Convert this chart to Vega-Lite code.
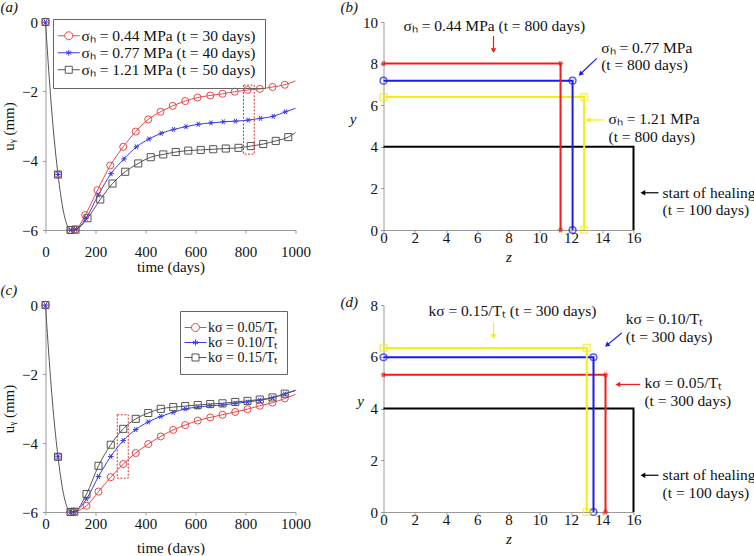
{
  "$schema": "https://vega.github.io/schema/vega-lite/v6.json",
  "autosize": {"type": "pad"},
  "padding": {"left": 0.5, "top": 0, "right": 0, "bottom": 0},
  "background": "white",
  "config": {
    "font": "Liberation Serif",
    "view": {"stroke": null},
    "axis": {"domainColor": "#9a9a9a", "tickColor": "#9a9a9a", "labelFont": "Liberation Serif", "titleFont": "Liberation Serif", "labelFontSize": 15, "titleFontSize": 15, "titleFontWeight": "normal", "labelColor": "#111", "titleColor": "#111", "grid": false, "tickSize": 3, "labelOverlap": false, "labelFlush": false, "labelSeparation": -40},
    "text": {"font": "Liberation Serif", "fontSize": 15.5}
  },
  "datasets": {
    "early": [{"t":0,"u":0},{"t":10,"u":-1.1},{"t":20,"u":-2.1},{"t":30,"u":-3.0},{"t":40,"u":-3.75},{"t":50,"u":-4.4},{"t":60,"u":-4.95},{"t":70,"u":-5.4},{"t":80,"u":-5.72},{"t":90,"u":-5.92},{"t":100,"u":-6}],
    "a": [
      {"s":"R","t":0,"u":0},{"s":"R","t":50,"u":-4.4},{"s":"R","t":100,"u":-6},{"s":"R","t":120,"u":-5.98},{"s":"R","t":159,"u":-5.57},{"s":"R","t":208,"u":-4.85},{"s":"R","t":259,"u":-4.14},{"s":"R","t":311,"u":-3.6},{"s":"R","t":361,"u":-3.16},{"s":"R","t":411,"u":-2.81},{"s":"R","t":460,"u":-2.59},{"s":"R","t":509,"u":-2.42},{"s":"R","t":559,"u":-2.28},{"s":"R","t":608,"u":-2.18},{"s":"R","t":659,"u":-2.12},{"s":"R","t":708,"u":-2.07},{"s":"R","t":757,"u":-2.01},{"s":"R","t":808,"u":-1.96},{"s":"R","t":857,"u":-1.93},{"s":"R","t":908,"u":-1.875},{"s":"R","t":957,"u":-1.81},{"s":"R","t":1000,"u":-1.7},
      {"s":"B","t":0,"u":0},{"s":"B","t":50,"u":-4.4},{"s":"B","t":100,"u":-6},{"s":"B","t":120,"u":-5.98},{"s":"B","t":162,"u":-5.66},{"s":"B","t":211,"u":-4.99},{"s":"B","t":262,"u":-4.375},{"s":"B","t":314,"u":-3.95},{"s":"B","t":364,"u":-3.6},{"s":"B","t":414,"u":-3.375},{"s":"B","t":463,"u":-3.21},{"s":"B","t":512,"u":-3.1},{"s":"B","t":562,"u":-3.02},{"s":"B","t":611,"u":-2.95},{"s":"B","t":662,"u":-2.91},{"s":"B","t":711,"u":-2.88},{"s":"B","t":760,"u":-2.86},{"s":"B","t":811,"u":-2.83},{"s":"B","t":860,"u":-2.78},{"s":"B","t":911,"u":-2.72},{"s":"B","t":960,"u":-2.59},{"s":"B","t":1000,"u":-2.49},
      {"s":"K","t":0,"u":0},{"s":"K","t":50,"u":-4.4},{"s":"K","t":100,"u":-6},{"s":"K","t":120,"u":-5.99},{"s":"K","t":168,"u":-5.66},{"s":"K","t":219,"u":-5.12},{"s":"K","t":268,"u":-4.66},{"s":"K","t":319,"u":-4.32},{"s":"K","t":371,"u":-4.08},{"s":"K","t":421,"u":-3.9},{"s":"K","t":471,"u":-3.82},{"s":"K","t":521,"u":-3.75},{"s":"K","t":571,"u":-3.71},{"s":"K","t":621,"u":-3.69},{"s":"K","t":671,"u":-3.67},{"s":"K","t":721,"u":-3.65},{"s":"K","t":772,"u":-3.63},{"s":"K","t":821,"u":-3.58},{"s":"K","t":871,"u":-3.52},{"s":"K","t":921,"u":-3.43},{"s":"K","t":971,"u":-3.32},{"s":"K","t":1000,"u":-3.19}
    ],
    "c": [
      {"s":"R","t":0,"u":0},{"s":"R","t":50,"u":-4.4},{"s":"R","t":100,"u":-6},{"s":"R","t":115,"u":-5.99},{"s":"R","t":164,"u":-5.82},{"s":"R","t":212,"u":-5.41},{"s":"R","t":261,"u":-4.99},{"s":"R","t":311,"u":-4.61},{"s":"R","t":361,"u":-4.29},{"s":"R","t":411,"u":-4.03},{"s":"R","t":461,"u":-3.81},{"s":"R","t":511,"u":-3.62},{"s":"R","t":559,"u":-3.48},{"s":"R","t":609,"u":-3.35},{"s":"R","t":659,"u":-3.26},{"s":"R","t":708,"u":-3.18},{"s":"R","t":759,"u":-3.1},{"s":"R","t":808,"u":-3.02},{"s":"R","t":857,"u":-2.92},{"s":"R","t":908,"u":-2.83},{"s":"R","t":957,"u":-2.71},{"s":"R","t":1000,"u":-2.59},
      {"s":"B","t":0,"u":0},{"s":"B","t":50,"u":-4.4},{"s":"B","t":100,"u":-6},{"s":"B","t":115,"u":-5.99},{"s":"B","t":164,"u":-5.62},{"s":"B","t":212,"u":-4.97},{"s":"B","t":261,"u":-4.39},{"s":"B","t":311,"u":-3.93},{"s":"B","t":361,"u":-3.61},{"s":"B","t":411,"u":-3.39},{"s":"B","t":461,"u":-3.23},{"s":"B","t":511,"u":-3.11},{"s":"B","t":559,"u":-3.01},{"s":"B","t":609,"u":-2.96},{"s":"B","t":659,"u":-2.92},{"s":"B","t":708,"u":-2.9},{"s":"B","t":759,"u":-2.85},{"s":"B","t":808,"u":-2.81},{"s":"B","t":857,"u":-2.76},{"s":"B","t":908,"u":-2.69},{"s":"B","t":957,"u":-2.58},{"s":"B","t":1000,"u":-2.48},
      {"s":"K","t":0,"u":0},{"s":"K","t":50,"u":-4.4},{"s":"K","t":100,"u":-6},{"s":"K","t":115,"u":-5.99},{"s":"K","t":164,"u":-5.48},{"s":"K","t":212,"u":-4.66},{"s":"K","t":261,"u":-4.05},{"s":"K","t":311,"u":-3.59},{"s":"K","t":361,"u":-3.3},{"s":"K","t":411,"u":-3.13},{"s":"K","t":461,"u":-3.01},{"s":"K","t":511,"u":-2.96},{"s":"K","t":559,"u":-2.93},{"s":"K","t":609,"u":-2.9},{"s":"K","t":659,"u":-2.87},{"s":"K","t":708,"u":-2.85},{"s":"K","t":759,"u":-2.81},{"s":"K","t":808,"u":-2.78},{"s":"K","t":857,"u":-2.74},{"s":"K","t":908,"u":-2.68},{"s":"K","t":957,"u":-2.57},{"s":"K","t":1000,"u":-2.47}
    ],
    "bLines": [
      {"s":"k","i":0,"z":0,"y":4},{"s":"k","i":1,"z":16,"y":4},{"s":"k","i":2,"z":16,"y":0},
      {"s":"y","i":0,"z":0,"y":6.39},{"s":"y","i":1,"z":12.84,"y":6.39},{"s":"y","i":2,"z":12.84,"y":0},
      {"s":"b","i":0,"z":0,"y":7.18},{"s":"b","i":1,"z":12.1,"y":7.18},{"s":"b","i":2,"z":12.1,"y":0},
      {"s":"r","i":0,"z":0,"y":8},{"s":"r","i":1,"z":11.33,"y":8},{"s":"r","i":2,"z":11.33,"y":0}
    ],
    "bArrows": [
      {"s":"r","z":7.04,"y":9.33,"z2":7.04,"y2":8.62,"hz":7.04,"hy":8.62,"ang":180},
      {"s":"b","z":13.65,"y":8.25,"z2":12.6,"y2":7.5,"hz":12.6,"hy":7.5,"ang":226},
      {"s":"y","z":14.08,"y":5.29,"z2":13.1,"y2":5.29,"hz":13.1,"hy":5.29,"ang":270},
      {"s":"k","z":17.6,"y":1.79,"z2":16.6,"y2":1.79,"hz":16.6,"hy":1.79,"ang":270}
    ],
    "bText": [
      {"txt":"σₕ = 0.44 MPa (t = 800 days)","z":1.28,"y":9.81},
      {"txt":"σₕ = 0.77 MPa","z":13.93,"y":8.77},
      {"txt":"(t = 800 days)","z":13.93,"y":7.93},
      {"txt":"σₕ = 1.21 MPa","z":14.4,"y":5.34},
      {"txt":"(t = 800 days)","z":14.4,"y":4.49},
      {"txt":"start of healing","z":17.86,"y":1.79},
      {"txt":"(t = 100 days)","z":17.86,"y":0.96}
    ],
    "dLines": [
      {"s":"k","i":0,"z":0,"y":4},{"s":"k","i":1,"z":16,"y":4},{"s":"k","i":2,"z":16,"y":0},
      {"s":"r","i":0,"z":0,"y":5.3},{"s":"r","i":1,"z":14.21,"y":5.3},{"s":"r","i":2,"z":14.21,"y":0},
      {"s":"b","i":0,"z":0,"y":5.98},{"s":"b","i":1,"z":13.44,"y":5.98},{"s":"b","i":2,"z":13.44,"y":0},
      {"s":"y","i":0,"z":0,"y":6.34},{"s":"y","i":1,"z":13.01,"y":6.34},{"s":"y","i":2,"z":13.01,"y":0}
    ],
    "dArrows": [
      {"s":"y","z":7.04,"y":7.31,"z2":7.04,"y2":6.78,"hz":7.04,"hy":6.78,"ang":180},
      {"s":"b","z":15.25,"y":6.92,"z2":14.3,"y2":6.45,"hz":14.3,"hy":6.45,"ang":230},
      {"s":"r","z":16.43,"y":4.93,"z2":15.0,"y2":4.93,"hz":15.0,"hy":4.93,"ang":270},
      {"s":"k","z":17.6,"y":1.42,"z2":16.6,"y2":1.42,"hz":16.6,"hy":1.42,"ang":270}
    ],
    "dText": [
      {"txt":"kσ = 0.15/Tₜ (t = 300 days)","z":2.88,"y":7.76},
      {"txt":"kσ = 0.10/Tₜ","z":15.51,"y":7.44},
      {"txt":"(t = 300 days)","z":15.51,"y":6.76},
      {"txt":"kσ = 0.05/Tₜ","z":16.7,"y":4.99},
      {"txt":"(t = 300 days)","z":16.7,"y":4.29},
      {"txt":"start of healing","z":17.86,"y":1.42},
      {"txt":"(t = 100 days)","z":17.86,"y":0.75}
    ]
  },
  "columns": 2,
  "spacing": {"row": 75, "column": 88},
  "bounds": "flush",
  "concat": [
    {
      "width": 250, "height": 208,
      "title": {"text": "(a)", "anchor": "start", "frame": "group", "dx": -45, "dy": 2, "offset": 2, "fontSize": 15, "font": "Liberation Serif", "fontWeight": "normal", "fontStyle": "italic", "color": "#111"},
      "resolve": {"scale": {"color": "independent", "shape": "independent"}},
      "layer": [
        {"data": {"name": "early"}, "mark": {"type": "line", "color": "#555", "strokeWidth": 1, "interpolate": "monotone"},
         "encoding": {
           "x": {"field": "t", "type": "quantitative", "scale": {"domain": [0, 1000], "nice": false}, "axis": {"title": "time (days)", "values": [0,200,400,600,800,1000], "format": "d", "labelPadding": 11, "titlePadding": 0, "labelOverlap": false, "labelFlush": false}},
           "y": {"field": "u", "type": "quantitative", "scale": {"domain": [-6, 0], "nice": false}, "axis": {"title": "uᵧ (mm)", "values": [-6,-4,-2,0], "format": "d", "labelPadding": 5, "titlePadding": 5, "labelOverlap": false, "labelFlush": false}}}},
        {"data": {"name": "a"}, "transform": [{"filter": "datum.t >= 100"}], "mark": {"type": "line", "strokeWidth": 1, "interpolate": "monotone"},
         "encoding": {"x": {"field": "t", "type": "quantitative"}, "y": {"field": "u", "type": "quantitative"},
           "color": {"field": "s", "type": "nominal", "scale": {"domain": ["R","B","K"], "range": ["#e84848","#3a3ae6","#555555"]}, "legend": null}}},
        {"data": {"name": "a"}, "transform": [{"filter": "datum.t < 1000"}], "mark": {"type": "point", "filled": false, "size": 50, "strokeWidth": 1, "opacity": 1},
         "encoding": {"x": {"field": "t", "type": "quantitative"}, "y": {"field": "u", "type": "quantitative"},
           "color": {"field": "s", "type": "nominal", "scale": {"domain": ["R","B","K"], "range": ["#e84848","#3a3ae6","#555555"]}, "legend": null},
           "shape": {"field": "s", "type": "nominal", "scale": {"domain": ["R","B","K"], "range": ["circle", "M-0.8,0L0.8,0M-0.4,-0.7L0.4,0.7M-0.4,0.7L0.4,-0.7", "square"]}, "legend": null}}},
        {"data": {"name": "a"}, "transform": [{"filter": "datum.t == 0"}], "mark": {"type": "point", "filled": false, "size": 0},
         "encoding": {"x": {"field": "t", "type": "quantitative"}, "y": {"field": "u", "type": "quantitative"},
           "color": {"field": "s", "type": "nominal", "scale": {"domain": ["R","B","K"], "range": ["#e84848","#3a3ae6","#555555"]},
             "legend": {"title": null, "orient": "none", "legendX": 7.5, "legendY": -3, "labelExpr": "datum.label == 'R' ? 'σₕ = 0.44 MPa (t = 30 days)' : datum.label == 'B' ? 'σₕ = 0.77 MPa (t = 40 days)' : 'σₕ = 1.21 MPa (t = 50 days)'", "labelFont": "Liberation Serif", "labelFontSize": 15.5, "labelColor": "#111", "symbolSize": 196, "symbolStrokeWidth": 1, "symbolOffset": -1, "labelOffset": 5, "padding": 9, "strokeColor": "#666", "rowPadding": -1, "labelLimit": 0, "symbolOpacity": 1}},
           "shape": {"field": "s", "type": "nominal", "scale": {"domain": ["R","B","K"], "range": ["M-1.57,0L-0.57,0M0.57,0L1.57,0M0.57,0A0.57,0.57,0,1,1,-0.57,0A0.57,0.57,0,1,1,0.57,0", "M-1.57,0L1.57,0M0,-0.43L0,0.43M-0.37,-0.21L0.37,0.21M-0.37,0.21L0.37,-0.21", "M-1.57,0L-0.5,0M0.5,0L1.57,0M-0.5,-0.5L0.5,-0.5L0.5,0.5L-0.5,0.5Z"]},
             "legend": {"title": null, "orient": "none", "legendX": 7.5, "legendY": -3, "labelExpr": "datum.label == 'R' ? 'σₕ = 0.44 MPa (t = 30 days)' : datum.label == 'B' ? 'σₕ = 0.77 MPa (t = 40 days)' : 'σₕ = 1.21 MPa (t = 50 days)'", "labelFont": "Liberation Serif", "labelFontSize": 15.5, "labelColor": "#111", "symbolSize": 196, "symbolStrokeWidth": 1, "symbolOffset": -1, "labelOffset": 5, "padding": 9, "strokeColor": "#666", "rowPadding": -1, "labelLimit": 0, "symbolOpacity": 1}}}},
        {"data": {"values": [{"t": 792, "t2": 835, "u": -1.82, "u2": -3.81}]}, "mark": {"type": "rect", "filled": false, "stroke": "#e03030", "strokeWidth": 1, "strokeDash": [2, 1.5]},
         "encoding": {"x": {"field": "t", "type": "quantitative"}, "x2": {"field": "t2"}, "y": {"field": "u", "type": "quantitative"}, "y2": {"field": "u2"}}}
      ]
    },
    {
      "width": 250, "height": 208,
      "title": {"text": "(b)", "anchor": "start", "frame": "group", "dx": -43, "dy": 2, "offset": 2, "fontSize": 15, "font": "Liberation Serif", "fontWeight": "normal", "fontStyle": "italic", "color": "#111"},
      "encoding": {
        "x": {"field": "z", "type": "quantitative", "scale": {"domain": [0, 16], "nice": false}, "axis": {"title": "z", "titleFontStyle": "italic", "values": [0,2,4,6,8,10,12,14,16], "format": "d", "labelPadding": -3, "titlePadding": 4, "labelOverlap": false, "labelFlush": false, "labelSeparation": -40}},
        "y": {"field": "y", "type": "quantitative", "scale": {"domain": [0, 10], "nice": false}, "axis": {"title": "y", "titleFontStyle": "italic", "values": [0,2,4,6,8,10], "format": "d", "labelPadding": 3, "titlePadding": 10, "titleAngle": 0, "labelOverlap": false, "labelFlush": false}}
      },
      "layer": [
        {"data": {"name": "bLines"}, "mark": {"type": "line", "strokeWidth": 2},
         "encoding": {
           "color": {"field": "s", "type": "nominal", "scale": {"domain": ["r","b","y","k"], "range": ["#f01c1c","#1c1cf0","#f4ee12","#000000"]}, "legend": null},
           "order": {"field": "i"}}},
        {"data": {"name": "bLines"}, "transform": [{"filter": "datum.s != 'k'"}], "mark": {"type": "point", "filled": false, "size": 45, "strokeWidth": 1.5},
         "encoding": {
           "color": {"field": "s", "type": "nominal", "legend": null},
           "shape": {"field": "s", "type": "nominal", "scale": {"domain": ["r","b","y"], "range": ["M-0.8,0L0.8,0M-0.4,-0.7L0.4,0.7M-0.4,0.7L0.4,-0.7", "circle", "square"]}, "legend": null}}},
        {"data": {"name": "bArrows"}, "mark": {"type": "rule", "strokeWidth": 1.2},
         "encoding": {"x2": {"field": "z2"}, "y2": {"field": "y2"},
           "color": {"field": "s", "type": "nominal", "legend": null}}},
        {"data": {"name": "bArrows"}, "mark": {"type": "point", "shape": "triangle-up", "filled": true, "size": 30, "opacity": 1},
         "encoding": {"x": {"field": "hz", "type": "quantitative"}, "y": {"field": "hy", "type": "quantitative"}, "angle": {"field": "ang", "type": "quantitative", "scale": null},
           "color": {"field": "s", "type": "nominal", "legend": null}}},
        {"data": {"name": "bText"}, "mark": {"type": "text", "align": "left", "baseline": "middle", "color": "#111", "font": "Liberation Serif", "fontSize": 15.5},
         "encoding": {"text": {"field": "txt"}}}
      ]
    },
    {
      "width": 250, "height": 207,
      "title": {"text": "(c)", "anchor": "start", "frame": "group", "dx": -45, "dy": 2, "offset": 2, "fontSize": 15, "font": "Liberation Serif", "fontWeight": "normal", "fontStyle": "italic", "color": "#111"},
      "resolve": {"scale": {"color": "independent", "shape": "independent"}},
      "layer": [
        {"data": {"name": "early"}, "mark": {"type": "line", "color": "#555", "strokeWidth": 1, "interpolate": "monotone"},
         "encoding": {
           "x": {"field": "t", "type": "quantitative", "scale": {"domain": [0, 1000], "nice": false}, "axis": {"title": "time (days)", "values": [0,200,400,600,800,1000], "format": "d", "labelPadding": 1, "titlePadding": 9, "labelOverlap": false, "labelFlush": false}},
           "y": {"field": "u", "type": "quantitative", "scale": {"domain": [-6, 0], "nice": false}, "axis": {"title": "uᵧ (mm)", "values": [-6,-4,-2,0], "format": "d", "labelPadding": 5, "titlePadding": 5, "labelOverlap": false, "labelFlush": false}}}},
        {"data": {"name": "c"}, "transform": [{"filter": "datum.t >= 100"}], "mark": {"type": "line", "strokeWidth": 1, "interpolate": "monotone"},
         "encoding": {"x": {"field": "t", "type": "quantitative"}, "y": {"field": "u", "type": "quantitative"},
           "color": {"field": "s", "type": "nominal", "scale": {"domain": ["R","B","K"], "range": ["#e84848","#3a3ae6","#555555"]}, "legend": null}}},
        {"data": {"name": "c"}, "transform": [{"filter": "datum.t < 1000"}], "mark": {"type": "point", "filled": false, "size": 50, "strokeWidth": 1, "opacity": 1},
         "encoding": {"x": {"field": "t", "type": "quantitative"}, "y": {"field": "u", "type": "quantitative"},
           "color": {"field": "s", "type": "nominal", "scale": {"domain": ["R","B","K"], "range": ["#e84848","#3a3ae6","#555555"]}, "legend": null},
           "shape": {"field": "s", "type": "nominal", "scale": {"domain": ["R","B","K"], "range": ["circle", "M-0.8,0L0.8,0M-0.4,-0.7L0.4,0.7M-0.4,0.7L0.4,-0.7", "square"]}, "legend": null}}},
        {"data": {"name": "c"}, "transform": [{"filter": "datum.t == 0"}], "mark": {"type": "point", "filled": false, "size": 0},
         "encoding": {"x": {"field": "t", "type": "quantitative"}, "y": {"field": "u", "type": "quantitative"},
           "color": {"field": "s", "type": "nominal", "scale": {"domain": ["R","B","K"], "range": ["#e84848","#3a3ae6","#555555"]},
             "legend": {"title": null, "orient": "none", "legendX": 134.5, "legendY": 6, "labelExpr": "datum.label == 'R' ? 'kσ = 0.05/Tₜ' : datum.label == 'B' ? 'kσ = 0.10/Tₜ' : 'kσ = 0.15/Tₜ'", "labelFont": "Liberation Serif", "labelFontSize": 14, "labelColor": "#111", "symbolSize": 196, "symbolStrokeWidth": 1, "symbolOffset": -1, "labelOffset": 5, "padding": 9, "strokeColor": "#666", "rowPadding": -0.5, "labelLimit": 0, "symbolOpacity": 1}},
           "shape": {"field": "s", "type": "nominal", "scale": {"domain": ["R","B","K"], "range": ["M-1.57,0L-0.57,0M0.57,0L1.57,0M0.57,0A0.57,0.57,0,1,1,-0.57,0A0.57,0.57,0,1,1,0.57,0", "M-1.57,0L1.57,0M0,-0.43L0,0.43M-0.37,-0.21L0.37,0.21M-0.37,0.21L0.37,-0.21", "M-1.57,0L-0.5,0M0.5,0L1.57,0M-0.5,-0.5L0.5,-0.5L0.5,0.5L-0.5,0.5Z"]},
             "legend": {"title": null, "orient": "none", "legendX": 134.5, "legendY": 6, "labelExpr": "datum.label == 'R' ? 'kσ = 0.05/Tₜ' : datum.label == 'B' ? 'kσ = 0.10/Tₜ' : 'kσ = 0.15/Tₜ'", "labelFont": "Liberation Serif", "labelFontSize": 14, "labelColor": "#111", "symbolSize": 196, "symbolStrokeWidth": 1, "symbolOffset": -1, "labelOffset": 5, "padding": 9, "strokeColor": "#666", "rowPadding": -0.5, "labelLimit": 0, "symbolOpacity": 1}}}},
        {"data": {"values": [{"t": 287, "t2": 331, "u": -3.18, "u2": -5.02}]}, "mark": {"type": "rect", "filled": false, "stroke": "#e03030", "strokeWidth": 1, "strokeDash": [2, 1.5]},
         "encoding": {"x": {"field": "t", "type": "quantitative"}, "x2": {"field": "t2"}, "y": {"field": "u", "type": "quantitative"}, "y2": {"field": "u2"}}}
      ]
    },
    {
      "width": 250, "height": 207,
      "title": {"text": "(d)", "anchor": "start", "frame": "group", "dx": -43, "dy": 14, "offset": 2, "fontSize": 15, "font": "Liberation Serif", "fontWeight": "normal", "fontStyle": "italic", "color": "#111"},
      "encoding": {
        "x": {"field": "z", "type": "quantitative", "scale": {"domain": [0, 16], "nice": false}, "axis": {"title": "z", "titleFontStyle": "italic", "values": [0,2,4,6,8,10,12,14,16], "format": "d", "labelPadding": -3, "titlePadding": 4, "labelOverlap": false, "labelFlush": false, "labelSeparation": -40}},
        "y": {"field": "y", "type": "quantitative", "scale": {"domain": [0, 8], "nice": false}, "axis": {"title": "y", "titleFontStyle": "italic", "values": [0,2,4,6,8], "format": "d", "labelPadding": 3, "titlePadding": 10, "titleAngle": 0, "labelOverlap": false, "labelFlush": false}}
      },
      "layer": [
        {"data": {"name": "dLines"}, "mark": {"type": "line", "strokeWidth": 2},
         "encoding": {
           "color": {"field": "s", "type": "nominal", "scale": {"domain": ["r","b","y","k"], "range": ["#f01c1c","#1c1cf0","#f4ee12","#000000"]}, "legend": null},
           "order": {"field": "i"}}},
        {"data": {"name": "dLines"}, "transform": [{"filter": "datum.s != 'k'"}], "mark": {"type": "point", "filled": false, "size": 45, "strokeWidth": 1.5},
         "encoding": {
           "color": {"field": "s", "type": "nominal", "legend": null},
           "shape": {"field": "s", "type": "nominal", "scale": {"domain": ["r","b","y"], "range": ["M-0.8,0L0.8,0M-0.4,-0.7L0.4,0.7M-0.4,0.7L0.4,-0.7", "circle", "square"]}, "legend": null}}},
        {"data": {"name": "dArrows"}, "mark": {"type": "rule", "strokeWidth": 1.2},
         "encoding": {"x2": {"field": "z2"}, "y2": {"field": "y2"},
           "color": {"field": "s", "type": "nominal", "legend": null}}},
        {"data": {"name": "dArrows"}, "mark": {"type": "point", "shape": "triangle-up", "filled": true, "size": 30, "opacity": 1},
         "encoding": {"x": {"field": "hz", "type": "quantitative"}, "y": {"field": "hy", "type": "quantitative"}, "angle": {"field": "ang", "type": "quantitative", "scale": null},
           "color": {"field": "s", "type": "nominal", "legend": null}}},
        {"data": {"name": "dText"}, "mark": {"type": "text", "align": "left", "baseline": "middle", "color": "#111", "font": "Liberation Serif", "fontSize": 15.5},
         "encoding": {"text": {"field": "txt"}}}
      ]
    }
  ]
}
